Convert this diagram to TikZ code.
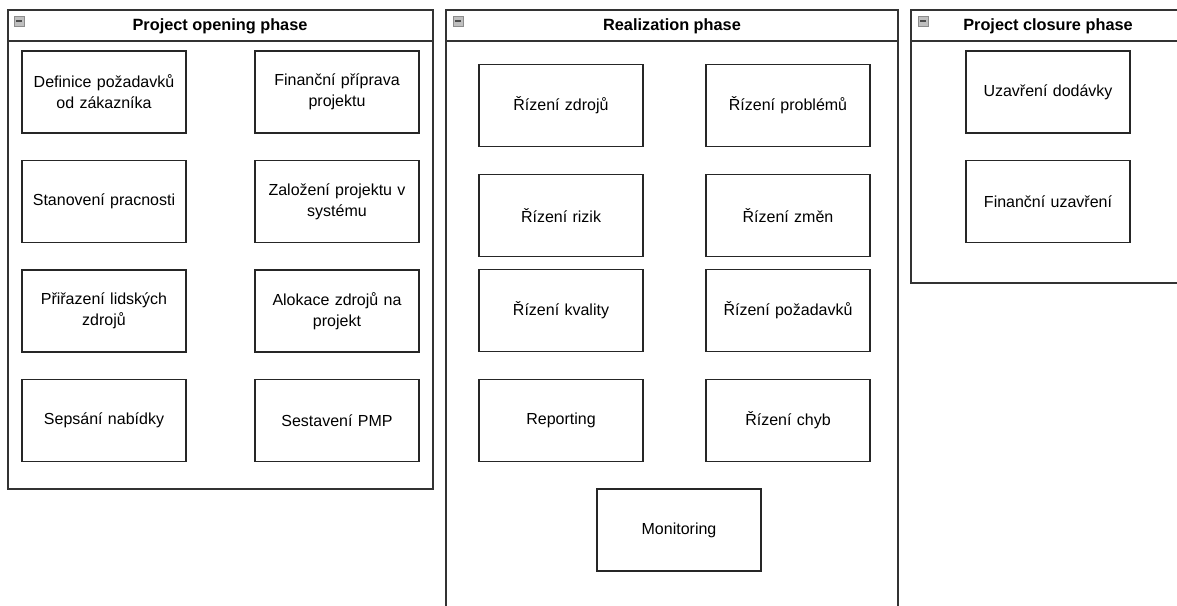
\documentclass[tikz,border=0pt]{standalone}
\usepackage{fontspec}
\setmainfont{Liberation Sans}
\begin{document}
\begin{tikzpicture}[x=1pt,y=-1pt,
  frame/.style={draw=black!80,line width=1.7pt},
  task/.style={draw=black!85,line width=1.7pt,minimum width=164pt,minimum height=82pt,
    align=center,inner sep=2pt,font=\fontsize{16}{21}\selectfont,text width=156pt},
  title/.style={font=\bfseries\fontsize{16.3}{18}\selectfont,anchor=center},
  icon/.style={draw=black!45,fill=black!25,line width=0.8pt}]
\useasboundingbox (0,0) rectangle (1177,605);
\fill[white] (0,0) rectangle (1177,605);
% container 1
\draw[frame] (8,10) rectangle (433,489);
\draw[frame] (8,41) -- (433,41);
\node[title] (t1) at (220,26) {Project opening phase};
\draw[icon] (14,16) rectangle (24,26);
\draw[black!70,line width=1.4pt] (16,21) -- (22,21);
% container 2
\draw[frame] (446,606) -- (446,10) -- (898,10) -- (898,606);
\draw[frame] (446,41) -- (898,41);
\node[title] (t2) at (672,26) {Realization phase};
\draw[icon] (453,16) rectangle (463,26);
\draw[black!70,line width=1.4pt] (455,21) -- (461,21);
% container 3
\draw[frame] (1178,10) -- (911,10) -- (911,283) -- (1178,283);
\draw[frame] (911,41) -- (1178,41);
\node[title] (t3) at (1048,26) {Project closure phase};
\draw[icon] (918,16) rectangle (928,26);
\draw[black!70,line width=1.4pt] (920,21) -- (926,21);
% tasks container 1
\node[task] (a1) at (104,92) {Definice požadavků\\od zákazníka};
\node[task] (a2) at (337,92) {Finanční příprava\\projektu};
\node[task] (a3) at (104,201.5) {Stanovení pracnosti};
\node[task] (a4) at (337,201.5) {Založení projektu v\\systému};
\node[task] (a5) at (104,311) {Přiřazení lidských\\zdrojů};
\node[task] (a6) at (337,311) {Alokace zdrojů na\\projekt};
\node[task] (a7) at (104,420.5) {Sepsání nabídky};
\node[task] (a8) at (337,420.5) {Sestavení PMP};
% tasks container 2
\node[task] (b1) at (561,105.5) {Řízení zdrojů};
\node[task] (b2) at (788,105.5) {Řízení problémů};
\node[task] (b3) at (561,215.5) {Řízení rizik};
\node[task] (b4) at (788,215.5) {Řízení změn};
\node[task] (b5) at (561,310.5) {Řízení kvality};
\node[task] (b6) at (788,310.5) {Řízení požadavků};
\node[task] (b7) at (561,420.5) {Reporting};
\node[task] (b8) at (788,420.5) {Řízení chyb};
\node[task] (b9) at (679,530) {Monitoring};
% tasks container 3
\node[task] (c1) at (1048,92) {Uzavření dodávky};
\node[task] (c2) at (1048,201.5) {Finanční uzavření};
\end{tikzpicture}
\end{document}
